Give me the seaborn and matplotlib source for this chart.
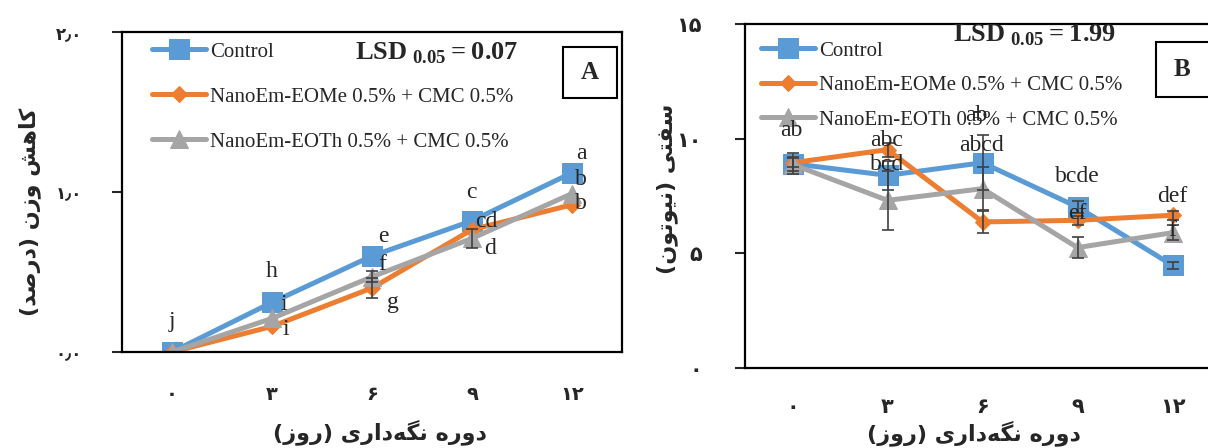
import numpy as np
import pandas as pd
import matplotlib
matplotlib.use('Agg')
import matplotlib.pyplot as plt
import seaborn as sns
from matplotlib.patches import Rectangle

# storage days (Persian digits) and treatments
days = ['۰', '۳', '۶', '۹', '۱۲']
treatments = ['Control', 'NanoEm-EOMe 0.5% + CMC 0.5%', 'NanoEm-EOTh 0.5% + CMC 0.5%']

# A: weight loss (%)
wl_control = [0.0, 0.31, 0.60, 0.82, 1.12]
wl_eome = [0.0, 0.16, 0.40, 0.765, 0.92]
wl_eoth = [0.0, 0.21, 0.47, 0.71, 0.99]
wl_control_err = [0.0, 0.0, 0.0, 0.0, 0.0]
wl_eome_err = [0.0, 0.0, 0.06, 0.0, 0.0]
wl_eoth_err = [0.0, 0.0, 0.035, 0.06, 0.0]
wl_ticks = [0, 1, 2]
wl_ticklabels = ['۰٫۰', '۱٫۰', '۲٫۰']

# B: firmness (N)
fm_control = [8.91, 8.40, 8.95, 7.02, 4.48]
fm_eome = [8.95, 9.52, 6.37, 6.44, 6.66]
fm_eoth = [8.88, 7.31, 7.82, 5.25, 5.90]
fm_control_err = [0.47, 0.63, 1.2, 0.25, 0.15]
fm_eome_err = [0.2, 0.3, 0.47, 0.2, 0.2]
fm_eoth_err = [0.3, 1.3, 0.95, 0.45, 0.33]
fm_ticks = [0, 5, 10, 15]
fm_ticklabels = ['۰', '۵', '۱۰', '۱۵']

# significance letters (text, x, y)
letters_a = [('j', 0.0, 0.19), ('h', 1.0, 0.505), ('i', 1.12, 0.30), ('i', 1.14, 0.14),
             ('e', 2.11, 0.72), ('f', 2.10, 0.55), ('g', 2.21, 0.31),
             ('c', 2.99, 1.0), ('cd', 3.14, 0.815), ('d', 3.18, 0.645),
             ('a', 4.09, 1.24), ('b', 4.09, 1.08), ('b', 4.09, 0.93)]
letters_b = [('ab', -0.01, 10.37), ('abc', 0.99, 9.93), ('bcd', 1.0, 8.88),
             ('ab', 1.94, 11.02), ('abcd', 1.99, 9.71), ('bcde', 3.0, 8.37),
             ('ef', 3.0, 6.74), ('def', 4.0, 7.49), ('f', 4.0, 6.0)]

colors = ['#5B9BD5', '#ED7D31', '#A5A5A5']
markers = ['s', 'D', '^']
msizes = [14, 8.5, 13]

# minimal Persian shaping (matplotlib has no Arabic shaping)
FORMS = {
    'ا': ('\ufe8d', '\ufe8e', None, None),
    'د': ('\ufea9', '\ufeaa', None, None),
    'ر': ('\ufead', '\ufeae', None, None),
    'ز': ('\ufeaf', '\ufeb0', None, None),
    'و': ('\ufeed', '\ufeee', None, None),
    'ه': ('\ufee9', '\ufeea', '\ufeeb', '\ufeec'),
    'ش': ('\ufeb5', '\ufeb6', '\ufeb7', '\ufeb8'),
    'ن': ('\ufee5', '\ufee6', '\ufee7', '\ufee8'),
    'ص': ('\ufeb9', '\ufeba', '\ufebb', '\ufebc'),
    'س': ('\ufeb1', '\ufeb2', '\ufeb3', '\ufeb4'),
    'ف': ('\ufed1', '\ufed2', '\ufed3', '\ufed4'),
    'ت': ('\ufe95', '\ufe96', '\ufe97', '\ufe98'),
    'ی': ('\ufbfc', '\ufbfd', '\ufbfe', '\ufbff'),
    'ک': ('\ufb8e', '\ufb8f', '\ufb90', '\ufb91'),
    'گ': ('\ufb92', '\ufb93', '\ufb94', '\ufb95'),
}


def fa(text):
    out = []
    for i, c in enumerate(text):
        if c not in FORMS:
            if c != '\u200c':
                out.append(c)
            continue
        prev = text[i - 1] if i > 0 else ''
        nxt = text[i + 1] if i + 1 < len(text) else ''
        jp = prev in FORMS and FORMS[prev][2] is not None
        jn = nxt in FORMS and FORMS[c][2] is not None
        iso, fin, ini, med = FORMS[c]
        if jp and jn:
            out.append(med)
        elif jp:
            out.append(fin)
        elif jn:
            out.append(ini)
        else:
            out.append(iso)
    swap = {'(': ')', ')': '('}
    return ''.join(swap.get(c, c) for c in reversed(out))


sns.set_style('white')
plt.rcParams['font.family'] = ['Liberation Serif', 'DejaVu Sans']
plt.rcParams['mathtext.fontset'] = 'custom'
plt.rcParams['mathtext.rm'] = 'Liberation Serif'
plt.rcParams['mathtext.bf'] = 'Liberation Serif:bold'

fig = plt.figure(figsize=(12.08, 4.48), dpi=100)
W, H = 1208, 448


def px(x, y):
    return x / W, 1 - y / H


ax1 = fig.add_axes([122 / W, 96 / H, 500 / W, 320 / H])
ax2 = fig.add_axes([745 / W, 80 / H, 475 / W, 344 / H])


def draw_panel(ax, vals, errs):
    for name, v, e, col, mk, ms in zip(treatments, vals, errs, colors, markers, msizes):
        df = pd.DataFrame({'day': range(len(days)), 'val': v})
        sns.lineplot(data=df, x='day', y='val', ax=ax, color=col, marker=mk,
                     markersize=ms, markeredgecolor=col, linewidth=3.6, label=name)
    for v, e in zip(vals, errs):
        e = np.array(e)
        keep = e > 0
        ax.errorbar(np.arange(len(days))[keep], np.array(v)[keep], yerr=e[keep], fmt='none',
                    ecolor='#404040', elinewidth=1.2, capsize=4, capthick=1.2, zorder=5)
    ax.set_xlim(-0.5, len(days) - 0.5)
    ax.set_xticks(np.arange(-0.5, len(days), 1))
    ax.set_xticklabels([])
    ax.set_xticks(range(len(days)), minor=True)
    ax.tick_params(axis='x', which='major', length=7, width=1.5, direction='out')
    ax.tick_params(axis='y', which='major', length=7, width=1.5, direction='out', left=True)
    ax.set_xlabel('')
    ax.set_ylabel('')
    for s in ['left', 'bottom', 'top', 'right']:
        ax.spines[s].set_linewidth(1.6)
        ax.spines[s].set_color('black')


draw_panel(ax1, [wl_control, wl_eome, wl_eoth], [wl_control_err, wl_eome_err, wl_eoth_err])
draw_panel(ax2, [fm_control, fm_eome, fm_eoth], [fm_control_err, fm_eome_err, fm_eoth_err])

ax1.set_ylim(0, 2)
ax1.set_yticks(wl_ticks)
ax1.set_yticklabels(wl_ticklabels, family='DejaVu Sans', fontweight='bold', fontsize=12)
ax1.tick_params(axis='y', pad=22)
ax1.set_xticklabels(days, minor=True, family='DejaVu Sans', fontweight='bold', fontsize=14)
ax1.tick_params(axis='x', which='minor', length=0, pad=24)

ax2.set_ylim(0, 15)
ax2.set_yticks(fm_ticks)
ax2.set_yticklabels(fm_ticklabels, family='DejaVu Sans', fontweight='bold', fontsize=15)
ax2.tick_params(axis='y', pad=24)
ax2.set_xticklabels(days, minor=True, family='DejaVu Sans', fontweight='bold', fontsize=15)
ax2.tick_params(axis='x', which='minor', length=0, pad=21)

for ax, letters in [(ax1, letters_a), (ax2, letters_b)]:
    for t, x, y in letters:
        ax.text(x, y, t, ha='center', va='center', fontsize=17, zorder=6)

# legends
ax1.legend(loc='upper left', bbox_to_anchor=px(152, 42), bbox_transform=fig.transFigure,
           frameon=False, fontsize=15, handlelength=2.6, handletextpad=0.2,
           labelspacing=1.22, borderpad=0, borderaxespad=0)
ax2.legend(loc='upper left', bbox_to_anchor=px(761, 41), bbox_transform=fig.transFigure,
           frameon=False, fontsize=15, handlelength=2.6, handletextpad=0.2,
           labelspacing=0.72, borderpad=0, borderaxespad=0)

# LSD values
fig.text(*px(355, 60), r'$\mathbf{LSD}_{\ \mathbf{0.05}}\mathbf{=0.07}$', fontsize=19,
         ha='left', va='baseline')
fig.text(*px(953, 41), r'$\mathbf{LSD}_{\ \mathbf{0.05}}\mathbf{=1.99}$', fontsize=19,
         ha='left', va='baseline')

# panel boxes
for x0, y0, x1, y1, lab in [(563, 47, 617, 98, 'A'), (1156, 42, 1216, 97, 'B')]:
    fig.patches.append(Rectangle(px(x0, y1), (x1 - x0) / W, (y1 - y0) / H, transform=fig.transFigure,
                                 facecolor='white', edgecolor='black', linewidth=1.5, zorder=3))
    fig.text(*px((x0 + min(x1, 1208)) / 2, (y0 + y1) / 2), lab, fontsize=18, fontweight='bold',
             ha='center', va='center', zorder=4)

# axis titles
fig.text(*px(30, 212), fa('کاهش وزن (درصد)'), rotation=90, ha='center', va='center',
         family='DejaVu Sans', fontweight='bold', fontsize=16)
fig.text(*px(380, 432), fa('دوره نگه‌داری (روز)'), ha='center', va='center',
         family='DejaVu Sans', fontweight='bold', fontsize=16)
fig.text(*px(667, 189), fa('سفتی (نیوتون)'), rotation=90, ha='center', va='center',
         family='DejaVu Sans', fontweight='bold', fontsize=16)
fig.text(*px(974, 433), fa('دوره نگه‌داری (روز)'), ha='center', va='center',
         family='DejaVu Sans', fontweight='bold', fontsize=16)

fig.savefig('out.png', dpi=100)
